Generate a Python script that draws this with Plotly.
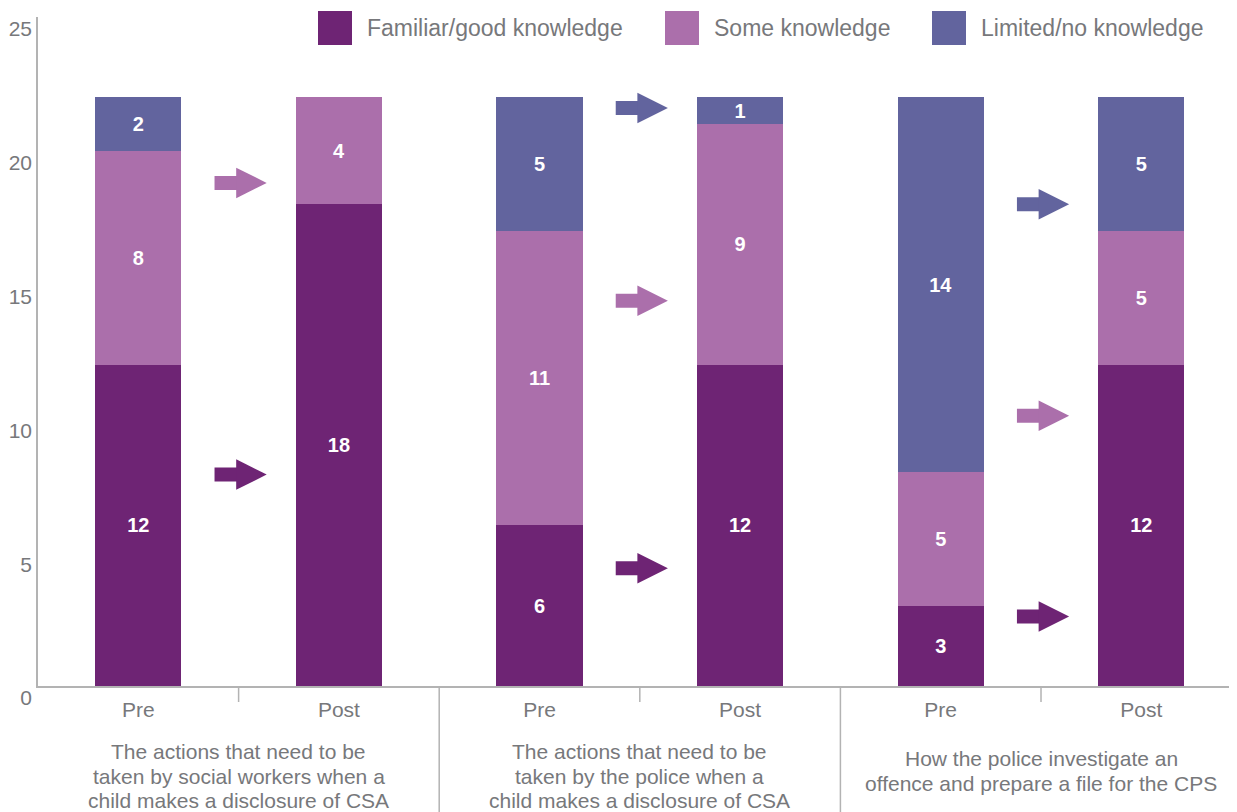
import plotly.graph_objects as go

# ---------------- data ----------------
bar_labels = ["Pre", "Post", "Pre", "Post", "Pre", "Post"]
group_labels = [
    ["The actions that need to be", "taken by social workers when a", "child makes a disclosure of CSA"],
    ["The actions that need to be", "taken by the police when a", "child makes a disclosure of CSA"],
    ["How the police investigate an", "offence and prepare a file for the CPS"],
]
series_names = ["Familiar/good knowledge", "Some knowledge", "Limited/no knowledge"]
familiar = [12, 18, 6, 12, 3, 12]
some = [8, 4, 11, 9, 5, 5]
limited = [2, 0, 5, 1, 14, 5]
y_ticks = [0, 5, 10, 15, 20, 25]

# arrows between Pre and Post (group index, series index, level)
arrow_group = [0, 0, 1, 1, 1, 2, 2, 2]
arrow_series = [1, 0, 2, 1, 0, 2, 1, 0]
arrow_level = [18.8, 7.9, 21.6, 14.4, 4.4, 18.0, 10.1, 2.6]

# ---------------- style ----------------
colors = ["#6e2474", "#ab6fab", "#62649e"]
gray_text = "#77787b"
line_gray = "#b3b3b3"
FONT = "Liberation Sans, Arial, sans-serif"

# page has an 8px body margin; figure is sized to fit the window
W, H = 1229, 804
ML, MT, MB = 30, 9, 126
plot_w = W - ML
plot_h = H - MT - MB
AX_Y = MT + plot_h + 8   # axis line in window pixels (686)


def px_x(px):
    return (px - 8 - ML) / plot_w


def px_y(py):
    return (AX_Y - py) / plot_h


x_pos = list(range(len(bar_labels)))
values = [familiar, some, limited]

fig = go.Figure()
for name, vals, col in zip(series_names, values, colors):
    fig.add_trace(go.Bar(
        x=x_pos, y=vals, name=name, width=0.43,
        marker=dict(color=col, line=dict(width=0)),
        text=[f"<b>{v}</b>" if v else "" for v in vals],
        textposition="inside", insidetextanchor="middle", textangle=0,
        textfont=dict(color="white", size=20, family=FONT),
        showlegend=False, hoverinfo="skip",
    ))

annotations = []
shapes = []

# block arrows: thick shaft (line shape) + arrow head (annotation)
TAIL, HEAD = 0.38, 0.64
for g, s, lvl in zip(arrow_group, arrow_series, arrow_level):
    shapes.append(dict(type="line", xref="x", yref="y", layer="above",
                       x0=2 * g + TAIL, x1=2 * g + HEAD - 0.09, y0=lvl, y1=lvl,
                       line=dict(color=colors[s], width=14)))
    annotations.append(dict(
        x=2 * g + HEAD, y=lvl, ax=2 * g + HEAD - 0.15, ay=lvl,
        xref="x", yref="y", axref="x", ayref="y",
        text="", showarrow=True, arrowhead=2, arrowwidth=1, arrowsize=6.1,
        arrowcolor=colors[s],
    ))

# group labels and dividers
for i, lines in enumerate(group_labels):
    first = 751 if len(lines) == 3 else 758
    for k, line in enumerate(lines):
        annotations.append(dict(
            x=2 * i + 0.5, y=px_y(first + 25 * k),
            xref="x", yref="paper", text=line, showarrow=False,
            xanchor="center", yanchor="middle",
            font=dict(size=21, color=gray_text, family=FONT),
        ))
    shapes.append(dict(type="line", xref="x", yref="paper",
                       x0=2 * i + 0.5, x1=2 * i + 0.5, y0=0, y1=px_y(702),
                       line=dict(color=line_gray, width=1.5)))
for b in [1.5, 3.5]:
    shapes.append(dict(type="line", xref="x", yref="paper",
                       x0=b, x1=b, y0=0, y1=px_y(812),
                       line=dict(color=line_gray, width=1.5)))

# custom legend
leg_sq_x = [318, 665, 932]
for name, col, px in zip(series_names, colors, leg_sq_x):
    shapes.append(dict(type="rect", xref="paper", yref="paper",
                       x0=px_x(px), x1=px_x(px + 34), y0=px_y(45), y1=px_y(11),
                       fillcolor=col, line=dict(width=0)))
    annotations.append(dict(
        x=px_x(px + 47), y=px_y(28), xref="paper", yref="paper",
        text=name, showarrow=False, xanchor="left", yanchor="middle",
        font=dict(size=23, color=gray_text, family=FONT),
    ))

fig.update_layout(
    width=W, height=H,
    margin=dict(l=ML, r=0, t=MT, b=MB, autoexpand=False),
    barmode="stack",
    plot_bgcolor="white", paper_bgcolor="white",
    font=dict(family=FONT, color=gray_text, size=21),
    uniformtext=dict(minsize=20, mode="show"),
    annotations=annotations, shapes=shapes,
    xaxis=dict(range=[-0.5, 5.477], tickvals=x_pos, ticktext=bar_labels,
               showline=True, linecolor=line_gray, linewidth=1.5,
               showgrid=False, zeroline=False, ticks="", ticklabelstandoff=4,
               tickfont=dict(size=21, color=gray_text, family=FONT)),
    yaxis=dict(range=[0, 25], tickvals=y_ticks, showline=True,
               linecolor=line_gray, linewidth=1.5, showgrid=False,
               zeroline=False, ticks="", ticklabelshift=12,
               tickfont=dict(size=21, color=gray_text, family=FONT)),
)

fig.write_html("out.html")
